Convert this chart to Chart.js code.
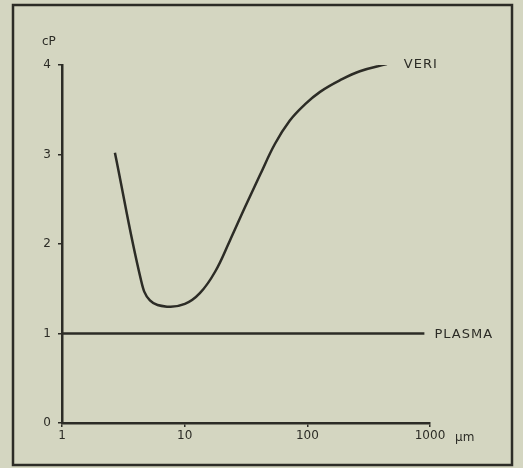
<!DOCTYPE html>
<html>
<head>
<meta charset="utf-8">
<script src="https://cdn.jsdelivr.net/npm/chart.js@4"></script>
<style>
  html, body { margin: 0; padding: 0; background: #d4d6c1; }
  #wrap { width: 523px; height: 468px; }
</style>
</head>
<body>
<div id="wrap"><canvas id="chart" width="523" height="468"></canvas></div>
<script>
// particle size (µm) vs viscosity (cP)
const veriSize = [2.7, 4.4, 5.21, 7.17, 10.05, 13.3, 17.7, 23.4, 31, 41.1, 54.5, 72, 95.5, 127, 185, 268, 445];
const veriCp   = [3.02, 1.60, 1.37, 1.30, 1.33, 1.45, 1.69, 2.04, 2.41, 2.77, 3.12, 3.38, 3.56, 3.70, 3.83, 3.93, 4.01];
const plasmaSize = [1, 900];
const plasmaCp   = [1.0, 1.0];
const xTicks = [1, 10, 100, 1000];
const yTicks = [0, 1, 2, 3, 4];

const ink = '#2c2c26';
const font = '"DejaVu Sans", sans-serif';

const toPoints = (xs, ys) => xs.map((x, i) => ({x: x, y: ys[i]}));

const decor = {
  id: 'decor',
  beforeDraw(c) {
    const ctx = c.ctx;
    ctx.save();
    ctx.fillStyle = '#d4d6c1';
    ctx.fillRect(0, 0, c.width, c.height);
    ctx.restore();
  },
  afterDraw(c) {
    const ctx = c.ctx;
    const xs = c.scales.x, ys = c.scales.y;
    ctx.save();
    // frame round the figure
    ctx.strokeStyle = ink;
    ctx.lineWidth = 2.5;
    ctx.strokeRect(13, 5, 499, 460);
    ctx.fillStyle = ink;
    ctx.font = '12px ' + font;
    ctx.textBaseline = 'middle';
    ctx.textAlign = 'left';
    ctx.fillText('cP', 42, 42);
    ctx.fillText('\u00b5m', 455, 438);
    ctx.font = '13px ' + font;
    ctx.letterSpacing = '1px';
    ctx.fillText('VERI', xs.getPixelForValue(445) + 17, ys.getPixelForValue(4.01) + 1);
    ctx.fillText('PLASMA', xs.getPixelForValue(900) + 10, ys.getPixelForValue(1.0) + 1);
    ctx.restore();
  }
};

new Chart(document.getElementById('chart'), {
  type: 'line',
  data: {
    datasets: [
      {
        label: 'VERI',
        data: toPoints(veriSize, veriCp),
        borderColor: ink,
        borderWidth: 2.5,
        pointRadius: 0,
        tension: 0.4,
        fill: false
      },
      {
        label: 'PLASMA',
        data: toPoints(plasmaSize, plasmaCp),
        borderColor: ink,
        borderWidth: 2.5,
        pointRadius: 0,
        fill: false
      }
    ]
  },
  options: {
    responsive: false,
    animation: false,
    layout: { padding: { left: 0, top: 65, right: 93, bottom: 0 } },
    plugins: { legend: { display: false }, tooltip: { enabled: false } },
    scales: {
      x: {
        type: 'logarithmic',
        min: 1,
        max: 1000,
        afterBuildTicks: s => { s.ticks = xTicks.map(v => ({value: v})); },
        afterFit: s => { s.height = 45; },
        border: { display: true, color: ink, width: 2.5 },
        grid: { drawOnChartArea: false, drawTicks: true, tickLength: 4, color: ink, lineWidth: 1.5 },
        ticks: {
          color: ink,
          font: { family: font, size: 12 },
          padding: 2,
          maxRotation: 0,
          autoSkip: false,
          callback: v => String(v)
        }
      },
      y: {
        type: 'linear',
        min: 0,
        max: 4,
        afterBuildTicks: s => { s.ticks = yTicks.map(v => ({value: v})); },
        afterFit: s => { s.width = 62; },
        border: { display: true, color: ink, width: 2.5 },
        grid: { drawOnChartArea: false, drawTicks: true, tickLength: 4, color: ink, lineWidth: 1.5 },
        ticks: {
          color: ink,
          font: { family: font, size: 12 },
          padding: 7,
          callback: v => String(v)
        }
      }
    }
  },
  plugins: [decor]
});
</script>
</body>
</html>
